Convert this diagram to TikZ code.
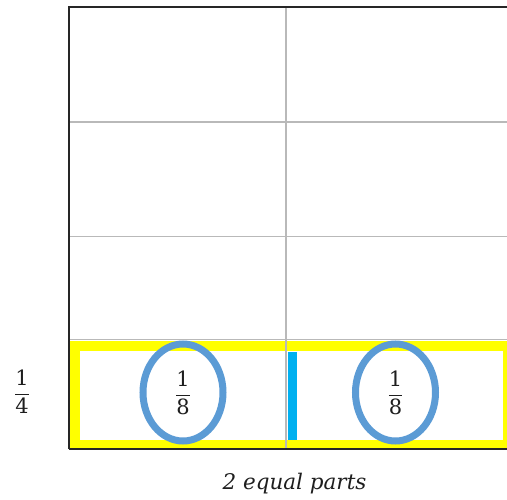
\documentclass[tikz,border=0pt]{standalone}
\usepackage{fontspec}
\setmainfont{DejaVu Serif}
\usetikzlibrary{shapes.geometric}
\definecolor{gridgray}{RGB}{185,185,185}
\definecolor{hlyellow}{RGB}{255,255,0}
\definecolor{ovalblue}{RGB}{91,155,213}
\definecolor{barblue}{RGB}{0,176,240}
\definecolor{txt}{RGB}{30,30,30}
\newcommand{\myfrac}[2]{$\displaystyle\frac{\mbox{#1}}{\mbox{#2}}$}
\begin{document}
\begin{tikzpicture}[x=1pt,y=-1pt,
  gridline/.style={draw=gridgray,line width=1.5pt},
  frameline/.style={draw=black!85,line width=1.8pt},
  oval/.style={ellipse,draw=ovalblue,line width=7pt,minimum width=80pt,minimum height=97pt,inner sep=0pt,text=txt,font=\fontsize{21}{25}\selectfont},
  lbl/.style={font=\fontsize{21}{25}\selectfont,inner sep=0pt,text=txt}]
\useasboundingbox (0,0) rectangle (507,499);
% yellow highlight of the bottom row
\fill[hlyellow] (70,341) rectangle (507,448);
\fill[white] (79.5,350.5) rectangle (503,440);
% grid lines
\draw[gridline] (69,122) -- (507,122);
\draw[gridline] (69,236.5) -- (507,236.5);
\draw[gridline] (69,339.5) -- (507,339.5);
\draw[gridline] (286,7) -- (286,449);
% blue bar
\fill[barblue] (287.5,352) rectangle (297,440);
% frame
\draw[frameline] (69,449) -- (69,7) -- (507,7);
\draw[frameline] (69,449) -- (507,449);
% ovals with fractions
\node[oval] (e1) at (183,392.5) {\myfrac{1}{8}};
\node[oval] (e2) at (395.5,392.5) {\myfrac{1}{8}};
% labels
\node[lbl] (q) at (22,392) {\myfrac{1}{4}};
\node[lbl,font=\fontsize{21.5}{25}\selectfont\itshape] (parts) at (294.5,484) {2 equal parts};
\end{tikzpicture}
\end{document}
